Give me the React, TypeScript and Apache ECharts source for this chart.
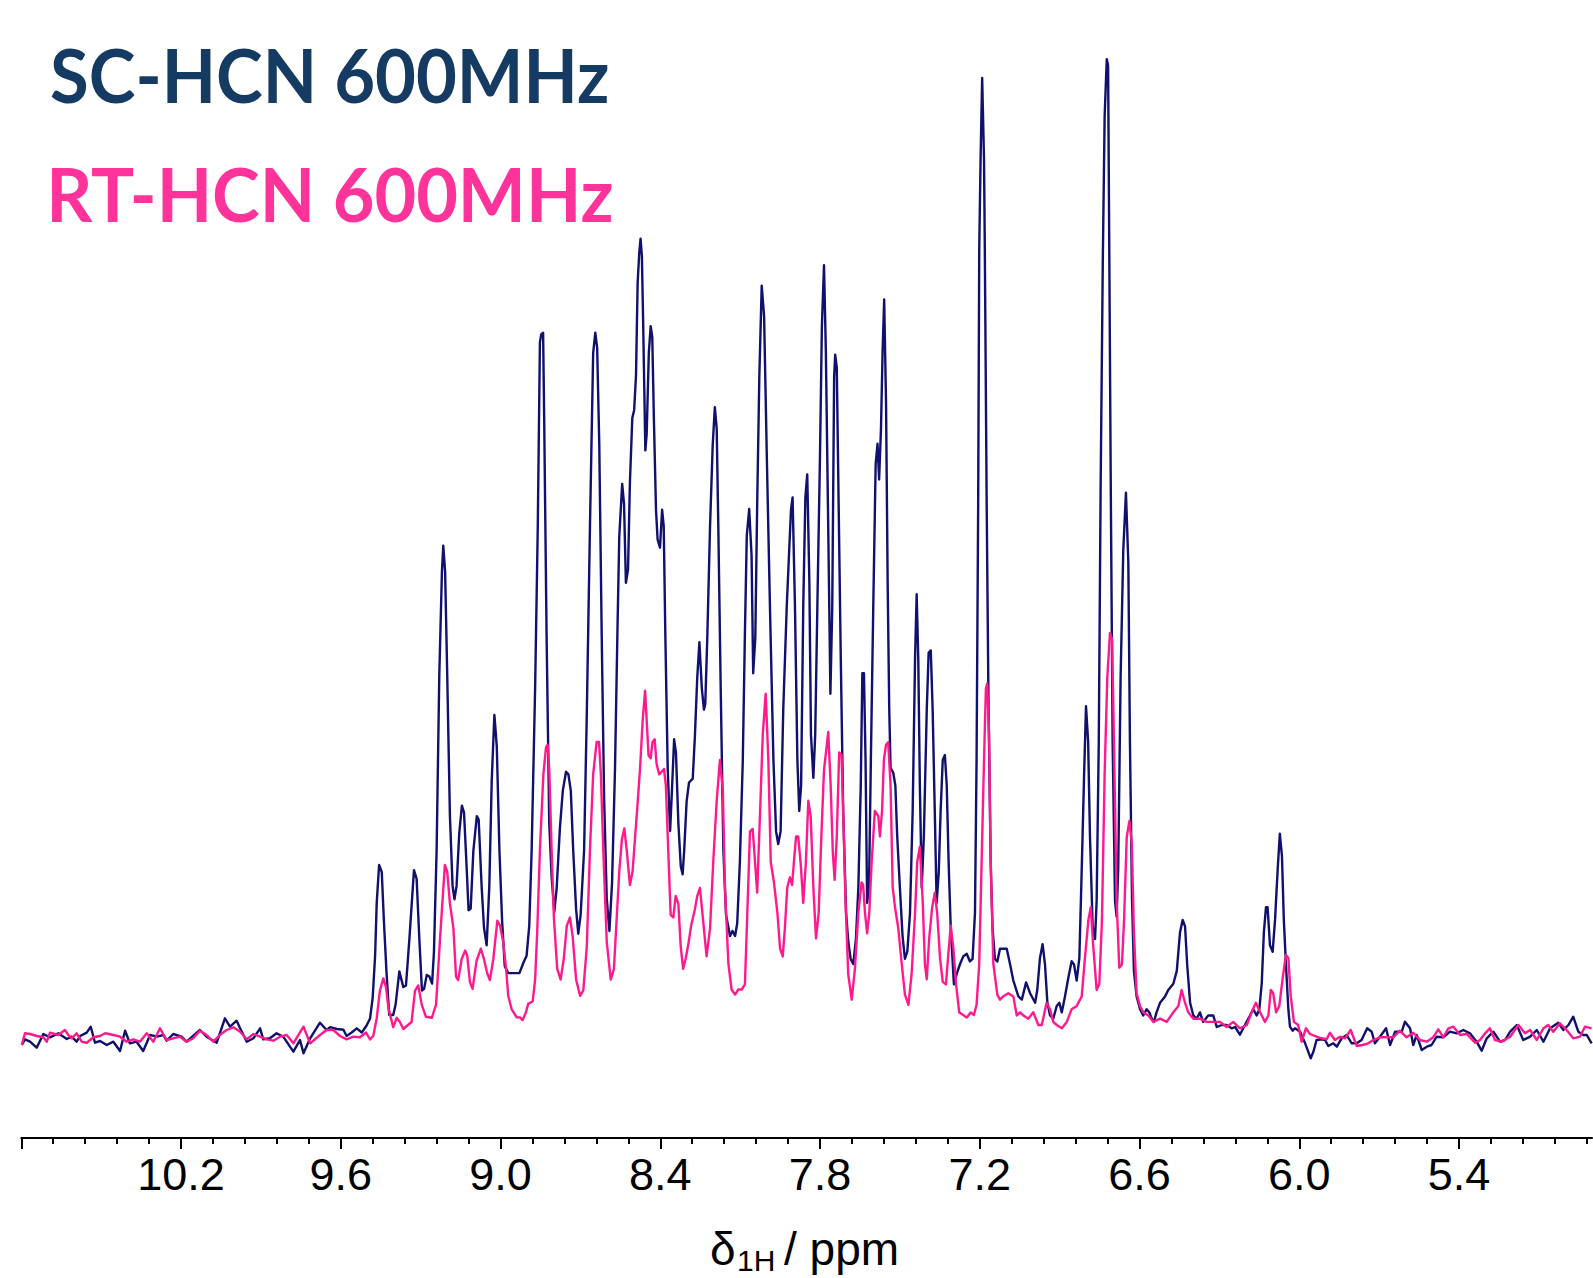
import React, { useEffect, useRef } from 'react';
import * as echarts from 'echarts';

const X_MIN = 4.9;
const X_MAX = 10.8;
const Y_MIN = -102;
const Y_MAX = 1036;

const majorTicks = [10.8, 10.2, 9.6, 9.0, 8.4, 7.8, 7.2, 6.6, 6.0, 5.4];
const tickLabels = [10.2, 9.6, 9.0, 8.4, 7.8, 7.2, 6.6, 6.0, 5.4];
const minorTicks = [10.68, 10.56, 10.44, 10.32, 10.08, 9.96, 9.84, 9.72, 9.48, 9.36, 9.24, 9.12,
  8.88, 8.76, 8.64, 8.52, 8.28, 8.16, 8.04, 7.92, 7.68, 7.56, 7.44, 7.32, 7.08, 6.96, 6.84, 6.72,
  6.48, 6.36, 6.24, 6.12, 5.88, 5.76, 5.64, 5.52, 5.28, 5.16, 5.04, 4.92];

const legendNames = ['SC-HCN 600MHz', 'RT-HCN 600MHz'];

// SC-HCN spectrum: [ppm, intensity]
const scSpectrum: [number, number][] = [
  [10.798, -9], [10.786, -3.3], [10.767, -5.7], [10.742, -11.7], [10.717, 2], [10.692, -1.3], [10.661, 2.7],
  [10.629, -3], [10.611, -0.7], [10.592, -5.7], [10.579, 0], [10.554, 3.3], [10.539, 9.3], [10.523, -6.7],
  [10.504, -5], [10.479, -9], [10.454, -5.7], [10.429, -15], [10.41, 5.3], [10.392, -7.3], [10.367, -5.7],
  [10.342, -15], [10.316, 1], [10.291, -0.7], [10.266, 1], [10.254, -4.7], [10.229, 2], [10.198, -0.7],
  [10.179, -5.7], [10.129, 6], [10.104, -0.7], [10.066, -6.7], [10.035, 17.7], [10.016, 9.3], [9.991, 15.3],
  [9.978, 7.7], [9.953, -5.7], [9.928, -2.3], [9.903, 7.7], [9.891, -3.3], [9.866, -2.3], [9.841, 2.7],
  [9.816, -0.7], [9.778, -15.7], [9.753, -4], [9.74, -17.3], [9.715, -2.3], [9.678, 13.3], [9.653, 6],
  [9.64, 8.8], [9.615, 7], [9.59, 6.3], [9.578, 0], [9.559, 3.5], [9.54, 7.7], [9.521, 3.5], [9.503, 10.5],
  [9.49, 17.5], [9.48, 38.4], [9.471, 80.3], [9.465, 132.6], [9.456, 171], [9.446, 164], [9.438, 115.2],
  [9.428, 62.9], [9.418, 21], [9.403, 21], [9.394, 31.4], [9.38, 64.6], [9.365, 48.9], [9.355, 50.6],
  [9.342, 97.8], [9.325, 165.8], [9.315, 157.1], [9.305, 97.8], [9.295, 45.4], [9.287, 47.1], [9.277, 61.1],
  [9.267, 59.4], [9.257, 52.4], [9.25, 83.8], [9.24, 185], [9.23, 359.5], [9.22, 464.2], [9.215, 490.4],
  [9.208, 464.2], [9.2, 359.5], [9.19, 219.9], [9.18, 150.1], [9.173, 136.8], [9.165, 150.1], [9.155, 202.5],
  [9.145, 230.4], [9.137, 223.4], [9.127, 167.5], [9.12, 125.7], [9.112, 127.4], [9.102, 185], [9.089, 219.9],
  [9.082, 216.4], [9.071, 150.1], [9.062, 108.2], [9.052, 90.8], [9.042, 150.1], [9.033, 254.8], [9.023, 321.1],
  [9.014, 289.7], [9.004, 185], [8.994, 115.2], [8.984, 69.8], [8.971, 62.9], [8.952, 62.9], [8.929, 62.9],
  [8.914, 73.3], [8.902, 80.3], [8.892, 110.4], [8.883, 186], [8.87, 348], [8.86, 510], [8.852, 693.6],
  [8.847, 701.7], [8.84, 703.3], [8.836, 618], [8.827, 402], [8.817, 213], [8.808, 159], [8.798, 124],
  [8.789, 148], [8.777, 207.6], [8.766, 245.4], [8.754, 264.3], [8.745, 261.6], [8.736, 245.4], [8.727, 186],
  [8.716, 126.6], [8.708, 102.3], [8.699, 121.2], [8.686, 186], [8.676, 321], [8.664, 510], [8.652, 682.8],
  [8.644, 703.3], [8.637, 688.2], [8.629, 591], [8.62, 402], [8.611, 240], [8.601, 137.4], [8.591, 105],
  [8.581, 153.6], [8.57, 267], [8.561, 402], [8.554, 499.2], [8.543, 552.1], [8.536, 531.6], [8.529, 453.3],
  [8.521, 466.8], [8.514, 553.2], [8.505, 618], [8.498, 626.1], [8.491, 661.2], [8.485, 753], [8.479, 782.7],
  [8.474, 797.3], [8.469, 780], [8.464, 709.8], [8.456, 585.6], [8.451, 601.8], [8.443, 682.8], [8.436, 709.8],
  [8.43, 699], [8.424, 618], [8.416, 526.2], [8.41, 496.5], [8.401, 488.4], [8.393, 526.2], [8.387, 510],
  [8.381, 402], [8.372, 267], [8.363, 205], [8.357, 240], [8.348, 296.7], [8.341, 283.2], [8.332, 213],
  [8.323, 169.8], [8.316, 161.7], [8.31, 186], [8.301, 234.6], [8.292, 253.5], [8.278, 257.3], [8.27, 299.4],
  [8.261, 358.8], [8.253, 393.9], [8.244, 348], [8.236, 326.4], [8.231, 331.8], [8.223, 402], [8.213, 510],
  [8.203, 591], [8.195, 628.8], [8.188, 607.2], [8.182, 510], [8.173, 348], [8.163, 186], [8.153, 121.2],
  [8.138, 100], [8.129, 105.1], [8.119, 100], [8.111, 112.8], [8.101, 174], [8.09, 276], [8.082, 403.5],
  [8.075, 500.4], [8.066, 527], [8.057, 480], [8.051, 362.7], [8.043, 398.4], [8.036, 531], [8.028, 658.5],
  [8.019, 750.3], [8.01, 719.7], [8.0, 582], [7.988, 429], [7.975, 276], [7.965, 204.6], [7.957, 192],
  [7.948, 204.6], [7.938, 327], [7.925, 429], [7.915, 490.2], [7.909, 526], [7.903, 538.6], [7.894, 429],
  [7.885, 276], [7.878, 225], [7.871, 250.5], [7.863, 429], [7.855, 538.6], [7.848, 561.6], [7.84, 454.5],
  [7.834, 301.5], [7.825, 258.1], [7.818, 301.5], [7.81, 429], [7.8, 582], [7.793, 709.5], [7.785, 770.7],
  [7.778, 684], [7.769, 505.5], [7.761, 342.3], [7.754, 429], [7.747, 658.5], [7.743, 681.4], [7.737, 668.7],
  [7.73, 531], [7.722, 378], [7.713, 225], [7.702, 123], [7.694, 95], [7.685, 77.1], [7.675, 72],
  [7.665, 97.5], [7.656, 148.5], [7.647, 250.5], [7.641, 362.7], [7.635, 362.7], [7.629, 276], [7.623, 133.2],
  [7.616, 148.5], [7.609, 276], [7.6, 429], [7.591, 571.8], [7.584, 592.2], [7.578, 556.5], [7.571, 607.5],
  [7.565, 684], [7.559, 736.5], [7.552, 633], [7.546, 454.5], [7.54, 327], [7.535, 268.3], [7.525, 263.2],
  [7.517, 250.5], [7.51, 199.5], [7.5, 148.5], [7.49, 100], [7.481, 77.1], [7.472, 84.7], [7.462, 123],
  [7.452, 225], [7.443, 378], [7.437, 441.7], [7.431, 378], [7.425, 250.5], [7.418, 148.5], [7.41, 199.5],
  [7.399, 327], [7.392, 383.1], [7.384, 385.6], [7.377, 327], [7.369, 225], [7.362, 133.2], [7.354, 163.8],
  [7.347, 225], [7.339, 276], [7.331, 281], [7.324, 250.5], [7.317, 174], [7.309, 107.7], [7.297, 51.6],
  [7.287, 61.8], [7.274, 72], [7.262, 79.6], [7.249, 82.2], [7.237, 74.5], [7.227, 77.1], [7.218, 123],
  [7.212, 276], [7.206, 531], [7.202, 786], [7.197, 876], [7.191, 958], [7.184, 876], [7.181, 786],
  [7.174, 531], [7.167, 327], [7.159, 174], [7.152, 107.7], [7.143, 77.1], [7.134, 74.5], [7.124, 87.3],
  [7.099, 87.4], [7.086, 71.5], [7.074, 55.5], [7.055, 39.6], [7.042, 36.4], [7.026, 53.6], [7.011, 42.8],
  [6.992, 33.2], [6.984, 46], [6.974, 77.9], [6.964, 91.9], [6.955, 71.5], [6.946, 33.2], [6.936, 20.5],
  [6.924, 17.3], [6.911, 30], [6.901, 33.2], [6.892, 23.6], [6.88, 39.6], [6.867, 58.7], [6.855, 74.7],
  [6.846, 71.5], [6.836, 55.5], [6.826, 77.9], [6.817, 167.1], [6.808, 262.8], [6.801, 329.7], [6.793, 294.6],
  [6.786, 199], [6.776, 109.7], [6.767, 97], [6.761, 135.2], [6.753, 294.6], [6.746, 549.7], [6.738, 772.8],
  [6.731, 919.5], [6.723, 976.9], [6.718, 970.5], [6.714, 804.7], [6.708, 549.7], [6.701, 294.6], [6.692, 135.2],
  [6.686, 119.3], [6.68, 167.1], [6.671, 358.4], [6.661, 485.9], [6.651, 543.3], [6.642, 473.2], [6.636, 294.6],
  [6.628, 135.2], [6.621, 65.1], [6.611, 39.6], [6.598, 26.8], [6.586, 20.5], [6.573, 26.8], [6.563, 23.6],
  [6.554, 17.3], [6.546, 14.1], [6.536, 23.6], [6.523, 33.2], [6.504, 39.6], [6.492, 46], [6.473, 52.3],
  [6.46, 65.1], [6.448, 103.4], [6.438, 116.1], [6.429, 109.7], [6.421, 71.5], [6.41, 33.2], [6.398, 20.5],
  [6.385, 17.3], [6.373, 23.6], [6.361, 14.1], [6.342, 20.5], [6.323, 20.5], [6.31, 9], [6.291, 11],
  [6.273, 11], [6.254, 7.7], [6.241, 9], [6.223, 1.3], [6.204, 11], [6.185, 20.5], [6.173, 26.8],
  [6.16, 20.5], [6.15, 26.8], [6.141, 52.3], [6.133, 103.4], [6.125, 128.9], [6.119, 128.9], [6.11, 90.6],
  [6.1, 84.2], [6.091, 116.1], [6.081, 167.1], [6.073, 202.2], [6.065, 179.9], [6.058, 116.1], [6.05, 71.5],
  [6.041, 26.8], [6.035, 9.3], [6.025, 5.3], [6.016, 7.7], [5.997, 4.3], [5.978, -7.3], [5.957, -22.3],
  [5.947, -15.7], [5.935, -4], [5.916, -3.3], [5.903, -4], [5.891, -10], [5.872, -7.3], [5.859, -10.7],
  [5.841, -2.3], [5.822, 1], [5.803, -7.3], [5.784, -7.3], [5.766, -4], [5.745, 7.7], [5.728, 4.3],
  [5.716, -7.3], [5.697, -0.7], [5.674, 7.7], [5.659, -9], [5.64, 4.3], [5.615, 4.3], [5.603, 14.3],
  [5.584, 7.7], [5.572, -9], [5.559, 1], [5.54, -14], [5.521, -10.7], [5.503, -9], [5.484, -0.7],
  [5.459, -1.3], [5.434, 4.3], [5.409, 2.7], [5.384, 6], [5.359, 2.7], [5.334, -5.7], [5.315, -14.7],
  [5.296, -2.3], [5.271, 4.3], [5.246, -5.7], [5.227, -4], [5.208, 4.3], [5.183, 11], [5.159, -4],
  [5.133, -0.7], [5.108, 6], [5.083, -5.7], [5.058, 7.7], [5.027, 13.3], [5.008, 6], [4.989, 11],
  [4.971, 19.3], [4.952, 4.3], [4.933, 1], [4.92, 1], [4.902, -7.3],
];

// RT-HCN spectrum: [ppm, intensity]
const rtSpectrum: [number, number][] = [
  [10.798, -9], [10.786, 2.7], [10.767, 2], [10.742, 0], [10.717, -1.3], [10.704, -5.7], [10.692, 3.3],
  [10.661, 1], [10.636, 6], [10.623, 1], [10.611, -2.3], [10.592, 2.7], [10.573, -5.7], [10.554, -6.7],
  [10.529, -1.3], [10.504, 0], [10.485, 2.7], [10.454, 1], [10.429, -0.7], [10.404, -5.7], [10.379, -3.3],
  [10.354, -5.7], [10.329, 2.7], [10.304, -5.7], [10.279, 7.7], [10.254, -4], [10.229, -2.3], [10.204, -0.7],
  [10.179, -5.7], [10.154, -2.3], [10.129, 5.3], [10.104, 1], [10.079, -5.7], [10.054, 1], [10.029, 6],
  [10.003, 8.7], [9.978, 4.3], [9.953, -3.3], [9.928, 2], [9.903, -0.7], [9.878, -3.3], [9.853, -4.7],
  [9.828, -0.7], [9.803, 1], [9.778, -7.3], [9.74, 9.3], [9.715, -7.3], [9.678, 1], [9.653, 6],
  [9.628, 6], [9.603, 0], [9.578, -3.3], [9.553, -0.7], [9.528, -1.3], [9.505, 3.5], [9.49, -3.5],
  [9.478, 0], [9.465, 17.5], [9.453, 45.4], [9.44, 57.6], [9.43, 48.9], [9.421, 27.9], [9.403, 8.8],
  [9.39, 18.2], [9.378, 14], [9.365, 7], [9.35, 10.5], [9.334, 14], [9.321, 45.4], [9.309, 50.6],
  [9.296, 31.4], [9.28, 19.2], [9.258, 18.2], [9.242, 31.4], [9.227, 97.7], [9.209, 171], [9.2, 164],
  [9.19, 132.6], [9.177, 108.2], [9.167, 59.4], [9.159, 55.9], [9.146, 76.8], [9.133, 85.5], [9.125, 80.3],
  [9.115, 54.1], [9.105, 47.1], [9.09, 75.1], [9.074, 87.3], [9.062, 76.8], [9.05, 62.8], [9.04, 55.9],
  [9.027, 76.8], [9.012, 115.2], [9.002, 110.4], [8.99, 94.2], [8.979, 67.2], [8.971, 40.2], [8.958, 26.7],
  [8.939, 18.6], [8.927, 18.6], [8.917, 15.9], [8.904, 24], [8.896, 32.1], [8.879, 34.8], [8.87, 56.4],
  [8.862, 105], [8.852, 186], [8.839, 261.6], [8.829, 288.6], [8.823, 291.3], [8.817, 267], [8.808, 186],
  [8.799, 115.8], [8.787, 67.2], [8.774, 56.4], [8.762, 78], [8.751, 110.4], [8.739, 118.5], [8.729, 99.6],
  [8.716, 56.4], [8.701, 40.2], [8.689, 45.6], [8.676, 88.8], [8.664, 186], [8.652, 261.6], [8.639, 294],
  [8.63, 294], [8.623, 261.6], [8.614, 186], [8.601, 94.2], [8.586, 56.4], [8.574, 67.2], [8.564, 115.8],
  [8.554, 164.4], [8.544, 196.8], [8.535, 207.6], [8.526, 186], [8.514, 150.9], [8.504, 164.4], [8.495, 196.8],
  [8.486, 229.2], [8.476, 267], [8.466, 315.6], [8.457, 345.3], [8.451, 315.6], [8.444, 280.5], [8.436, 277.8],
  [8.429, 294], [8.421, 296.7], [8.414, 272.4], [8.404, 261.6], [8.395, 264.3], [8.386, 267], [8.379, 250.8],
  [8.37, 186], [8.361, 121.2], [8.351, 118.5], [8.342, 140.1], [8.332, 132], [8.323, 88.8], [8.314, 67.2],
  [8.304, 78], [8.293, 94.2], [8.284, 110.4], [8.27, 126.6], [8.261, 140.1], [8.251, 148.2], [8.238, 112.8],
  [8.226, 79.6], [8.213, 107.7], [8.201, 174], [8.188, 235.2], [8.176, 276], [8.165, 245.4], [8.157, 148.5],
  [8.144, 72], [8.132, 46.5], [8.119, 41.4], [8.107, 46.5], [8.094, 46.5], [8.082, 51.6], [8.073, 123],
  [8.063, 204.6], [8.053, 207.1], [8.044, 174], [8.036, 143.4], [8.025, 225], [8.015, 301.5], [8.004, 342.3],
  [7.994, 276], [7.985, 174], [7.973, 153.6], [7.96, 123], [7.95, 87.3], [7.94, 79.6], [7.932, 107.7],
  [7.923, 148.5], [7.913, 158.7], [7.905, 151], [7.898, 174], [7.89, 199.5], [7.882, 199.5], [7.873, 174],
  [7.863, 133.2], [7.853, 174], [7.844, 235.2], [7.835, 219.9], [7.825, 148.5], [7.815, 97.5], [7.805, 123],
  [7.795, 199.5], [7.785, 265.8], [7.769, 304], [7.76, 250.5], [7.752, 184.2], [7.745, 156.1], [7.737, 199.5],
  [7.728, 283.6], [7.719, 281], [7.713, 225], [7.704, 133.2], [7.694, 61.8], [7.681, 36.3], [7.669, 66.9],
  [7.656, 123], [7.644, 153.6], [7.638, 151], [7.631, 123], [7.623, 102.6], [7.615, 123], [7.606, 174],
  [7.594, 225], [7.581, 219.9], [7.575, 199.5], [7.567, 225], [7.56, 276], [7.552, 291.3], [7.544, 293.8],
  [7.535, 250.5], [7.527, 148.5], [7.518, 128.1], [7.506, 107.7], [7.493, 72], [7.481, 41.4], [7.468, 31.2],
  [7.456, 61.8], [7.443, 123], [7.435, 174], [7.425, 189.3], [7.414, 133.2], [7.406, 72], [7.399, 56.7],
  [7.39, 97.5], [7.379, 128.1], [7.369, 143.4], [7.36, 123], [7.349, 77.1], [7.339, 54.1], [7.327, 51.6],
  [7.318, 82.2], [7.309, 110.2], [7.299, 87.3], [7.289, 51.6], [7.277, 23.5], [7.262, 21], [7.249, 18.4],
  [7.234, 23.5], [7.222, 21], [7.212, 31.2], [7.202, 72], [7.193, 174], [7.184, 276], [7.177, 347.4],
  [7.172, 352.5], [7.165, 301.5], [7.159, 174], [7.149, 72], [7.134, 41.4], [7.124, 36.3], [7.112, 39.6],
  [7.093, 42.8], [7.074, 39.6], [7.061, 20.5], [7.049, 23.7], [7.036, 20.5], [7.018, 17.3], [6.999, 23.7],
  [6.98, 11], [6.967, 11], [6.949, 33.2], [6.936, 26.8], [6.924, 14.1], [6.911, 11], [6.892, 7.7],
  [6.873, 14.1], [6.855, 26.8], [6.836, 30], [6.817, 39.6], [6.805, 77.9], [6.792, 116.1], [6.783, 128.9],
  [6.774, 90.6], [6.761, 46], [6.751, 52.3], [6.741, 116.1], [6.731, 262.8], [6.721, 358.4], [6.711, 403],
  [6.703, 396.7], [6.696, 294.6], [6.686, 135.2], [6.676, 68.3], [6.666, 71.5], [6.658, 116.1], [6.648, 199],
  [6.638, 215], [6.629, 192.6], [6.621, 103.4], [6.611, 42.8], [6.598, 30], [6.586, 23.7], [6.567, 20.5],
  [6.548, 14.1], [6.523, 17.3], [6.498, 14.1], [6.473, 23.7], [6.454, 30], [6.442, 46], [6.429, 33.2],
  [6.417, 23.7], [6.398, 17.3], [6.373, 17.3], [6.348, 14.1], [6.323, 14.1], [6.298, 14.1], [6.273, 9],
  [6.248, 14.1], [6.223, 7.7], [6.197, 11], [6.179, 23.7], [6.163, 33.2], [6.147, 23.7], [6.129, 14.1],
  [6.116, 20.5], [6.107, 46], [6.098, 42.8], [6.087, 23.7], [6.075, 30], [6.062, 58.7], [6.05, 81],
  [6.041, 77.9], [6.032, 39.6], [6.02, 14.1], [6.004, 11], [5.991, -5.7], [5.975, 7.7], [5.96, 2],
  [5.935, -0.7], [5.916, -2.3], [5.897, -3.3], [5.885, 3.3], [5.866, -4], [5.847, -0.7], [5.828, -2.3],
  [5.807, 6], [5.784, -10], [5.762, -9], [5.741, -7.3], [5.722, -4], [5.697, -1.3], [5.672, -1.3],
  [5.647, -1.3], [5.622, 5.3], [5.597, -1.3], [5.572, 3.3], [5.547, -4], [5.521, -5.7], [5.497, -1.3],
  [5.478, 6.7], [5.459, -1.3], [5.44, 7.7], [5.421, 9.3], [5.396, 1], [5.371, 2], [5.34, -6.7],
  [5.321, -4], [5.302, 2.7], [5.284, 7.7], [5.265, -4], [5.24, -5.7], [5.208, -0.7], [5.177, 11],
  [5.152, 2.7], [5.133, 6], [5.108, -4], [5.083, 7.7], [5.065, 11], [5.046, 4.3], [5.021, 12.7],
  [4.996, 6], [4.971, -2.3], [4.946, -0.7], [4.927, 9.3], [4.902, 7.7],
];

const SC_LINE = '#10106e';
const RT_LINE = '#ff1a8c';
const SC_TEXT = '#163b63';
const RT_TEXT = '#ff3399';

function fitText(text: string, family: string, left: number, right: number, capTop: number, baseline: number) {
  const canvas = document.createElement('canvas');
  const ctx = canvas.getContext('2d')!;
  ctx.font = `bold 100px ${family}`;
  const m = ctx.measureText(text);
  const capH = m.actualBoundingBoxAscent || 72;
  const fs = ((baseline - capTop) / capH) * 100;
  ctx.font = `bold ${fs}px ${family}`;
  const m2 = ctx.measureText(text);
  const ink = (m2.actualBoundingBoxLeft + m2.actualBoundingBoxRight) || m2.width;
  const sx = (right - left) / ink;
  const x = left + m2.actualBoundingBoxLeft * sx;
  const fa = m2.fontBoundingBoxAscent ?? fs * 0.987;
  const fd = m2.fontBoundingBoxDescent ?? fs * 0.213;
  const y = baseline - (fa - fd) / 2;
  return { fs, sx, x, y };
}

export default function App() {
  const ref = useRef<HTMLDivElement>(null);
  useEffect(() => {
    if (!ref.current) return;
    const chart = echarts.init(ref.current, null, { renderer: 'svg' });
    const sc = fitText(legendNames[0], 'Lato', 51, 608, 48, 103);
    const rt = fitText(legendNames[1], 'Lato', 51, 612, 168, 222);
    const gridRect = { left: 21.25, top: 0, width: 1570.9, height: 1138 };
    const option: any = {
      animation: false,
      backgroundColor: '#ffffff',
      grid: [
        { ...gridRect, containLabel: false },
        { ...gridRect, containLabel: false },
      ],
      xAxis: [
        {
          type: 'value', gridIndex: 0, min: X_MIN, max: X_MAX, inverse: true, position: 'bottom',
          axisLine: { show: true, onZero: false, lineStyle: { color: '#000', width: 2 } },
          axisTick: { show: true, length: 11, inside: false, customValues: majorTicks, lineStyle: { color: '#000', width: 2 } },
          axisLabel: {
            show: true, customValues: tickLabels, margin: 14,
            formatter: (v: number) => v.toFixed(1),
            fontSize: 45, fontFamily: 'Liberation Sans', color: '#000',
          },
          splitLine: { show: false },
        },
        {
          type: 'value', gridIndex: 1, min: X_MIN, max: X_MAX, inverse: true, position: 'bottom',
          axisLine: { show: false, onZero: false },
          axisTick: { show: true, length: 6, inside: false, customValues: minorTicks, lineStyle: { color: '#000', width: 2 } },
          axisLabel: { show: false },
          splitLine: { show: false },
        },
      ],
      yAxis: [
        { type: 'value', gridIndex: 0, min: Y_MIN, max: Y_MAX, show: false },
        { type: 'value', gridIndex: 1, min: Y_MIN, max: Y_MAX, show: false },
      ],
      series: [
        {
          name: legendNames[0], type: 'line', xAxisIndex: 0, yAxisIndex: 0, data: scSpectrum,
          showSymbol: false, symbol: 'none', smooth: false, clip: true,
          lineStyle: { color: SC_LINE, width: 2.4, join: 'round' }, itemStyle: { color: SC_LINE }, z: 2,
        },
        {
          name: legendNames[1], type: 'line', xAxisIndex: 0, yAxisIndex: 0, data: rtSpectrum,
          showSymbol: false, symbol: 'none', smooth: false, clip: true,
          lineStyle: { color: RT_LINE, width: 2.4, join: 'round' }, itemStyle: { color: RT_LINE }, z: 3,
        },
      ],
      graphic: [
        {
          type: 'text', x: sc.x, y: sc.y, scaleX: sc.sx, z: 10,
          style: { text: legendNames[0], fontSize: sc.fs, fontWeight: 'bold', fontFamily: 'Lato', fill: SC_TEXT, align: 'left', verticalAlign: 'middle' },
        },
        {
          type: 'text', x: rt.x, y: rt.y, scaleX: rt.sx, z: 10,
          style: { text: legendNames[1], fontSize: rt.fs, fontWeight: 'bold', fontFamily: 'Lato', fill: RT_TEXT, align: 'left', verticalAlign: 'middle' },
        },
        {
          type: 'text', x: 710, y: 1249, z: 10,
          style: { text: 'δ', fontSize: 46, fontFamily: 'Liberation Sans', fill: '#000', align: 'left', verticalAlign: 'middle' },
        },
        {
          type: 'text', x: 737, y: 1260.6, z: 10,
          style: { text: '1H', fontSize: 30, fontFamily: 'Liberation Sans', fill: '#000', align: 'left', verticalAlign: 'middle' },
        },
        {
          type: 'text', x: 784, y: 1249, z: 10,
          style: { text: '/ ppm', fontSize: 46, fontFamily: 'Liberation Sans', fill: '#000', align: 'left', verticalAlign: 'middle' },
        },
      ],
    };
    chart.setOption(option);
    return () => chart.dispose();
  }, []);
  return (
    <div
      ref={ref}
      style={{ position: 'absolute', left: 0, top: 0, width: 1593, height: 1278, background: '#ffffff' }}
    />
  );
}
